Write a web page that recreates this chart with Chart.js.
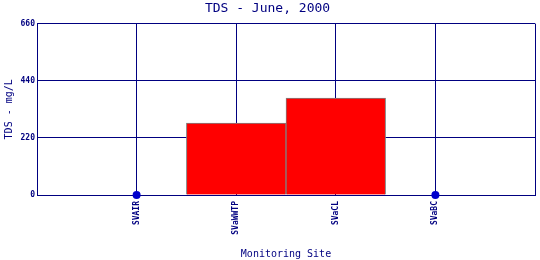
<!DOCTYPE html>
<html>
<head>
<meta charset="utf-8">
<script src="https://cdn.jsdelivr.net/npm/chart.js@4/dist/chart.umd.min.js"></script>
<style>
  html, body { margin: 0; padding: 0; background: #fff; }
  #wrap { width: 540px; height: 260px; }
</style>
</head>
<body>
<div id="wrap"><canvas id="tdsChart"></canvas></div>
<script>
const sites = ['SVAIR', 'SVaWWTP', 'SVaCL', 'SVaBC'];
const tdsValues = [0, 277, 373, 0];
const yTicks = [0, 220, 440, 660];

const navy = '#000080';
const mono = 'DejaVu Sans Mono';

// blank slots at both ends so the sites sit on the inner grid lines
const labels = [''].concat(sites, ['']);
const barData = [null].concat(tdsValues.map(v => v > 0 ? v : null), [null]);
const dotData = [null].concat(tdsValues.map(v => v > 0 ? null : v), [null]);

const ctx = document.getElementById('tdsChart').getContext('2d');
const tdsChart = new Chart(ctx, {
    data: {
        labels: labels,
        datasets: [{
            type: 'bar',
            label: 'TDS',
            data: barData,
            backgroundColor: '#ff0000',
            borderColor: '#808080',
            borderWidth: 1,
            categoryPercentage: 1.0,
            barPercentage: 1.0,
            order: 2
        }, {
            type: 'line',
            label: 'TDS zero',
            data: dotData,
            showLine: false,
            clip: false,
            pointRadius: 4,
            pointBackgroundColor: '#0000cc',
            pointBorderWidth: 0,
            order: 1
        }]
    },
    options: {
        responsive: true,
        maintainAspectRatio: false,
        animation: false,
        layout: { padding: { left: 0, right: 5, top: 0, bottom: 0 } },
        plugins: {
            legend: { display: false },
            tooltip: { enabled: false },
            title: {
                display: true,
                text: 'TDS - June, 2000',
                color: navy,
                font: { family: mono, size: 13, weight: 'normal' },
                padding: { top: 1, bottom: 7 }
            }
        },
        scales: {
            x: {
                type: 'category',
                offset: false,
                grid: { color: navy, lineWidth: 1, drawTicks: false, offset: false },
                border: { color: navy },
                ticks: {
                    color: navy,
                    font: { family: mono, size: 8, weight: 'bold' },
                    minRotation: 90,
                    maxRotation: 90,
                    autoSkip: false,
                    padding: 6
                },
                title: {
                    display: true,
                    text: 'Monitoring Site',
                    color: navy,
                    font: { family: mono, size: 10 },
                    padding: { top: 4, bottom: 0 }
                },
                afterFit: scale => {
                    scale.height = 65;
                    scale.paddingLeft = 0;
                    scale.paddingRight = 0;
                }
            },
            y: {
                min: 0,
                max: 660,
                afterBuildTicks: scale => { scale.ticks = yTicks.map(v => ({ value: v })); },
                grid: { color: navy, lineWidth: 1, drawTicks: false },
                border: { color: navy },
                ticks: {
                    color: navy,
                    font: { family: mono, size: 8, weight: 'bold' },
                    padding: 2
                },
                title: {
                    display: true,
                    text: 'TDS - mg/L',
                    color: navy,
                    font: { family: mono, size: 10 },
                    padding: { top: 3, bottom: 4 }
                },
                afterFit: scale => { scale.width = 37; }
            }
        }
    }
});
</script>
</body>
</html>
